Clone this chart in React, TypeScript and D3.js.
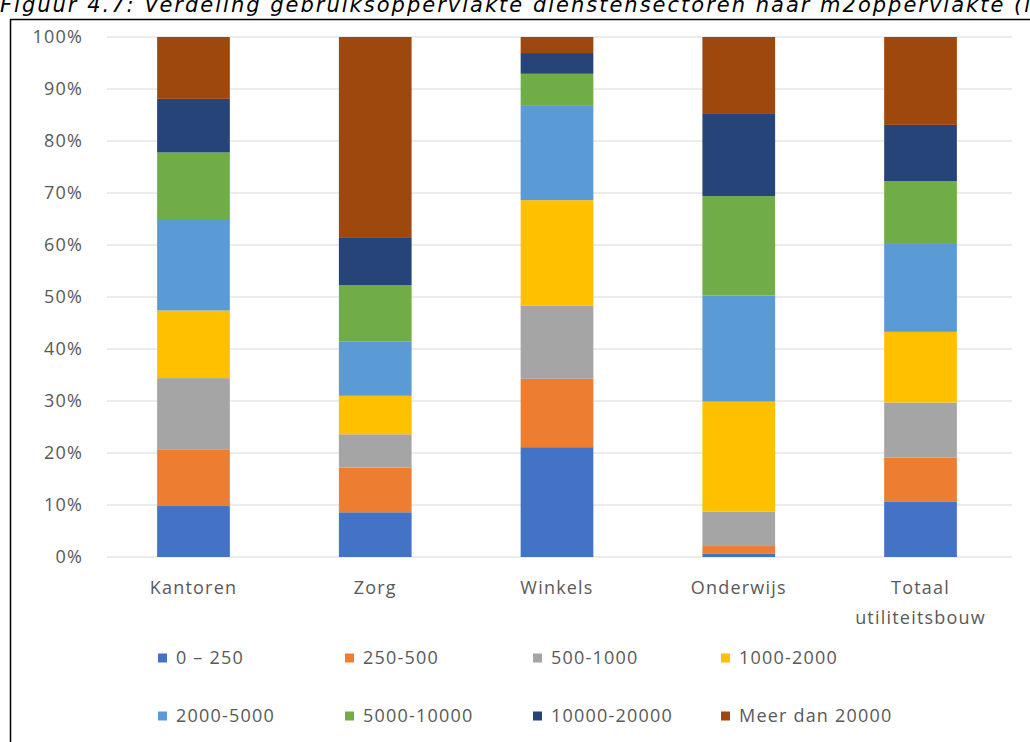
import React from "react";
import * as d3 from "d3";

const categories = ["Kantoren", "Zorg", "Winkels", "Onderwijs", "Totaal\nutiliteitsbouw"];
const seriesNames = ["0 \u2013 250", "250-500", "500-1000", "1000-2000", "2000-5000", "5000-10000", "10000-20000", "Meer dan 20000"];
const seriesColors = ["#4472C4", "#ED7D31", "#A5A5A5", "#FFC000", "#5B9BD5", "#70AD47", "#264478", "#9E480E"];
// values in % per series, order matches categories
const s0_250 = [9.8, 8.6, 21.2, 0.6, 10.7];
const s250_500 = [10.8, 8.6, 13.2, 1.5, 8.4];
const s500_1000 = [13.8, 6.4, 14.1, 6.6, 10.6];
const s1000_2000 = [13.0, 7.4, 20.4, 21.2, 13.6];
const s2000_5000 = [17.6, 10.4, 18.2, 20.4, 16.9];
const s5000_10000 = [12.8, 10.9, 6.2, 19.1, 12.1];
const s10000_20000 = [10.3, 9.2, 4.0, 15.8, 10.8];
const sMeer = [11.9, 38.5, 3.1, 14.8, 16.9];
const yTicks = [0, 10, 20, 30, 40, 50, 60, 70, 80, 90, 100];
const title = "Figuur 4.7: Verdeling gebruiksoppervlakte dienstensectoren naar m2oppervlakte (in %)";

const allSeries = [s0_250, s250_500, s500_1000, s1000_2000, s2000_5000, s5000_10000, s10000_20000, sMeer];

export default function App() {
  const W = 1030, H = 742;
  const x = d3.scaleBand().domain(categories).range([102.6, 1011.4]).paddingInner(0.6).paddingOuter(0.3);
  const y = d3.scaleLinear().domain([0, 100]).range([557, 37]);
  const rows = categories.map((c, i) => {
    const o: any = { cat: c };
    seriesNames.forEach((s, j) => (o[s] = allSeries[j][i]));
    return o;
  });
  const stacked = d3.stack().keys(seriesNames).offset(d3.stackOffsetExpand)(rows as any);
  const font = "'Open Sans', sans-serif";
  const legendCols = [158, 345, 533, 721];
  const legendRows = [658, 716];
  return (
    <svg width={W} height={H} style={{ position: "absolute", left: 0, top: 0, background: "#fff" }}>
      <rect x={0} y={0} width={W} height={H} fill="#fff" />
      <text x={0} y={12} fontFamily="'DejaVu Sans', sans-serif" fontStyle="italic" fontSize={21} letterSpacing={2} fill="#000">{title}</text>
      <line x1={10} x2={W} y1={19.5} y2={19.5} stroke="#000" strokeWidth={1.5} />
      <line x1={10.5} x2={10.5} y1={19} y2={H} stroke="#000" strokeWidth={1.5} />
      {yTicks.map((t) => (
        <g key={t}>
          <line x1={107} x2={1012} y1={y(t)} y2={y(t)} stroke="#D9D9D9" strokeWidth={1} />
          <text x={83} y={y(t)} dy="0.35em" textAnchor="end" fontFamily={font} fontSize={18} letterSpacing={1.2} fill="#595959">{t}%</text>
        </g>
      ))}
      {stacked.map((layer, j) => (
        <g key={j} fill={seriesColors[j]}>
          {layer.map((d: any, i) => (
            <rect key={i} x={x(categories[i])} width={x.bandwidth()} y={y(d[1] * 100)} height={y(d[0] * 100) - y(d[1] * 100)} />
          ))}
        </g>
      ))}
      {categories.map((c) => (
        <text key={c} textAnchor="middle" fontFamily={font} fontSize={18} letterSpacing={1.2} fill="#595959">
          {c.split("\n").map((line, k) => (
            <tspan key={k} x={(x(c) as number) + x.bandwidth() / 2} y={594 + k * 30}>{line}</tspan>
          ))}
        </text>
      ))}
      {seriesNames.map((s, j) => {
        const lx = legendCols[j % 4];
        const ly = legendRows[Math.floor(j / 4)];
        return (
          <g key={s}>
            <rect x={lx} y={ly - 4.5} width={9} height={9} fill={seriesColors[j]} />
            <text x={lx + 18} y={ly} dy="0.35em" fontFamily={font} fontSize={18} letterSpacing={1.2} fill="#595959">{s}</text>
          </g>
        );
      })}
    </svg>
  );
}
